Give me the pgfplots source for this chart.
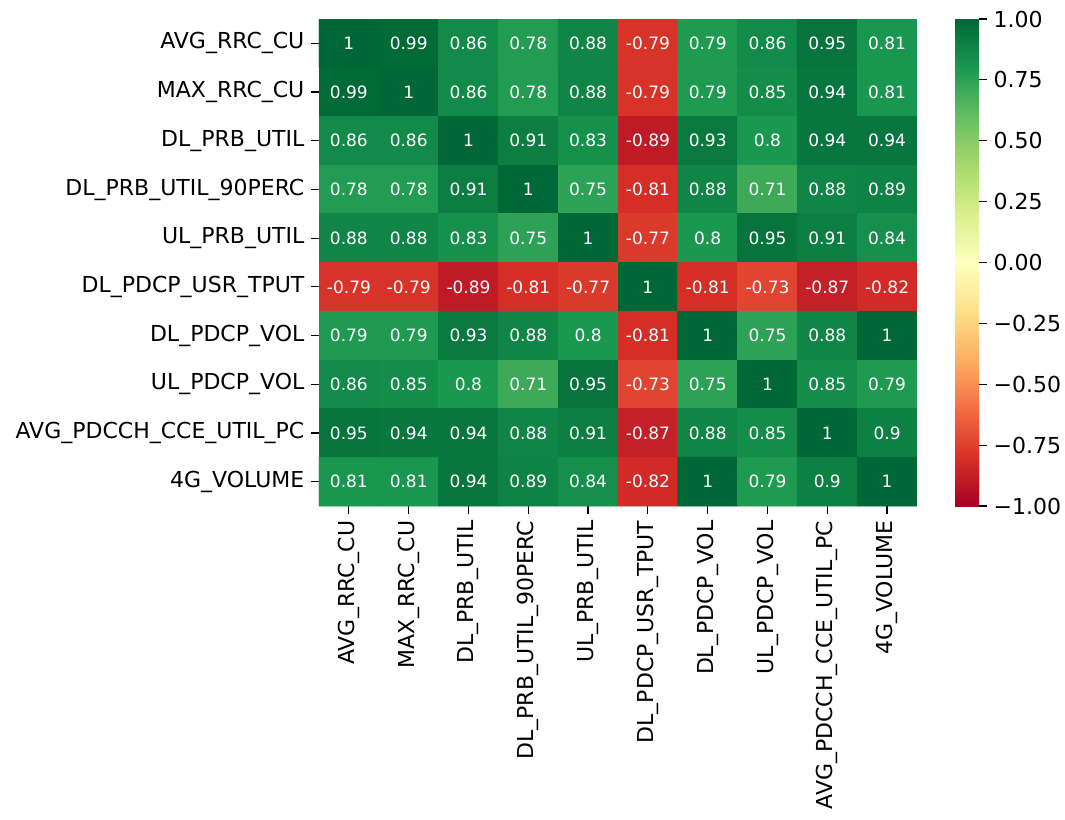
\documentclass[border=0pt]{standalone}
\usepackage{fontspec}
\setmainfont{DejaVu Sans}
\usepackage{pgfplots}
\pgfplotsset{compat=1.18}
\usepackage{pgfplotstable}

\pgfplotstableread{
x y c
0 0 1
1 0 0.99
2 0 0.86
3 0 0.78
4 0 0.88
5 0 -0.79
6 0 0.79
7 0 0.86
8 0 0.95
9 0 0.81
0 1 0.99
1 1 1
2 1 0.86
3 1 0.78
4 1 0.88
5 1 -0.79
6 1 0.79
7 1 0.85
8 1 0.94
9 1 0.81
0 2 0.86
1 2 0.86
2 2 1
3 2 0.91
4 2 0.83
5 2 -0.89
6 2 0.93
7 2 0.8
8 2 0.94
9 2 0.94
0 3 0.78
1 3 0.78
2 3 0.91
3 3 1
4 3 0.75
5 3 -0.81
6 3 0.88
7 3 0.71
8 3 0.88
9 3 0.89
0 4 0.88
1 4 0.88
2 4 0.83
3 4 0.75
4 4 1
5 4 -0.77
6 4 0.8
7 4 0.95
8 4 0.91
9 4 0.84
0 5 -0.79
1 5 -0.79
2 5 -0.89
3 5 -0.81
4 5 -0.77
5 5 1
6 5 -0.81
7 5 -0.73
8 5 -0.87
9 5 -0.82
0 6 0.79
1 6 0.79
2 6 0.93
3 6 0.88
4 6 0.8
5 6 -0.81
6 6 1
7 6 0.75
8 6 0.88
9 6 1
0 7 0.86
1 7 0.85
2 7 0.8
3 7 0.71
4 7 0.95
5 7 -0.73
6 7 0.75
7 7 1
8 7 0.85
9 7 0.79
0 8 0.95
1 8 0.94
2 8 0.94
3 8 0.88
4 8 0.91
5 8 -0.87
6 8 0.88
7 8 0.85
8 8 1
9 8 0.9
0 9 0.81
1 9 0.81
2 9 0.94
3 9 0.89
4 9 0.84
5 9 -0.82
6 9 1
7 9 0.79
8 9 0.9
9 9 1
}\corrtable

\pgfplotsset{
  colormap={RdYlGn}{rgb255=(165,0,38) rgb255=(215,48,39) rgb255=(244,109,67) rgb255=(253,174,97) rgb255=(254,224,139) rgb255=(255,255,191) rgb255=(217,239,139) rgb255=(166,217,106) rgb255=(102,189,99) rgb255=(26,152,80) rgb255=(0,104,55)}
}

\begin{document}
\begin{tikzpicture}
\path[use as bounding box] (-159.5pt,-156.5pt) rectangle (373pt,253pt);
\begin{axis}[
  at={(0,0)}, anchor=south west,
  scale only axis,
  width=299pt, height=243.5pt,
  xmin=-0.5, xmax=9.5, ymin=-0.5, ymax=9.5,
  enlargelimits=false,
  y dir=reverse,
  axis line style={draw=none},
  tick align=outside,
  major tick length=3.8pt,
  tick style={black, line width=0.6pt},
  xtick={0,...,9}, ytick={0,...,9},
  xtick pos=bottom, ytick pos=left,
  xticklabels={AVG\_RRC\_CU,MAX\_RRC\_CU,DL\_PRB\_UTIL,DL\_PRB\_UTIL\_90PERC,UL\_PRB\_UTIL,DL\_PDCP\_USR\_TPUT,DL\_PDCP\_VOL,UL\_PDCP\_VOL,AVG\_PDCCH\_CCE\_UTIL\_PC,4G\_VOLUME},
  yticklabels={AVG\_RRC\_CU,MAX\_RRC\_CU,DL\_PRB\_UTIL,DL\_PRB\_UTIL\_90PERC,UL\_PRB\_UTIL,DL\_PDCP\_USR\_TPUT,DL\_PDCP\_VOL,UL\_PDCP\_VOL,AVG\_PDCCH\_CCE\_UTIL\_PC,4G\_VOLUME},
  xticklabel style={rotate=90, anchor=east, font=\fontsize{11}{13}\selectfont},
  yticklabel style={font=\fontsize{11}{13}\selectfont},
  colormap name=RdYlGn,
  point meta min=-1, point meta max=1,
  colorbar,
  colorbar style={
    at={(parent axis.north east)}, anchor=north west, xshift=10.5pt,
    scale only axis,
    width=12pt,
    axis line style={draw=none},
    ytick={-1,-0.75,...,1},
    yticklabels={−1.00,−0.75,−0.50,−0.25,0.00,0.25,0.50,0.75,1.00},
    ytick pos=right, yticklabel pos=right,
    yticklabel style={font=\fontsize{11}{13}\selectfont, anchor=west, xshift=0pt},
    tick align=outside,
    major tick length=3.8pt,
    tick style={black, line width=0.6pt},
  },
]
\addplot[matrix plot*, mesh/cols=10, point meta=explicit] table[x=x, y=y, meta=c] {\corrtable};
\addplot[draw=none, mark=none, point meta=explicit,
  nodes near coords={\pgfmathprintnumber[fixed,precision=2,assume math mode=true]{\pgfplotspointmeta}},
  every node near coord/.append style={anchor=center, text=white, font=\fontsize{8.5}{10}\selectfont}]
  table[x=x, y=y, meta=c] {\corrtable};
\end{axis}
\end{tikzpicture}
\end{document}
